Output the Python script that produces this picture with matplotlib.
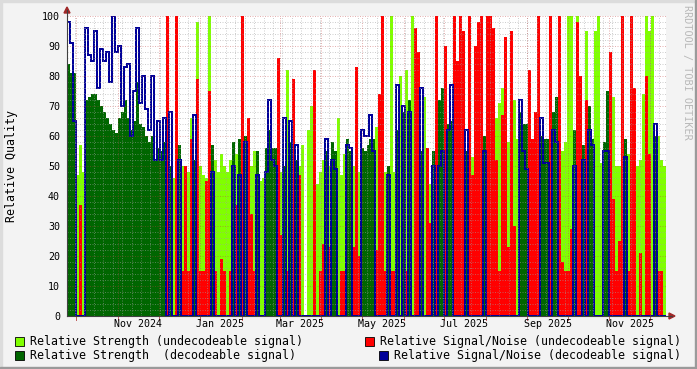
import datetime as dt
import numpy as np
import matplotlib
matplotlib.use('Agg')
import matplotlib.pyplot as plt
import matplotlib.dates as mdates
from matplotlib.patches import Rectangle, Polygon
from matplotlib.lines import Line2D
from matplotlib.transforms import blended_transform_factory

# time span of the graph (bins are equal slices of it)
start = dt.datetime(2024, 9, 24)
end = dt.datetime(2025, 12, 13)

# D = decodeable signal, U = undecodeable signal (one letter per bin)
kind = ("DDDUUUDDDD DDDDDDDDDD DDDDDDDDDD DDDUDUUDUU UUDUUUUUDU "
        "UUUUUDUDUD UUUDUUDDDD UUDUDUDUUU UUUUUUDUDD UUUDDUUUDD "
        "DDDUUUUDUU DUDUDUUUDU UUDUDDUDDU UUUDUUUUUD UUUUUUUUUU "
        "UDDDUUUUDD DUDDUUUUUD UUDUDDUUUD DUUUUUDUUU UUUUUUDUUU").replace(' ', '')

strength = [84, 81, 81, 47, 57, 48, 72, 73, 74, 74,
            72, 70, 68, 66, 64, 62, 61, 66, 68, 72,
            66, 62, 65, 78, 64, 63, 60, 58, 60, 52,
            56, 55, 58, 60, 50, 46, 44, 57, 50, 48,
            48, 66, 52, 98, 50, 47, 46, 100, 57, 52,
            48, 54, 50, 48, 52, 58, 54, 59, 56, 60,
            45, 50, 55, 55, 45, 46, 56, 62, 56, 56,
            48, 48, 50, 82, 58, 52, 52, 50, 57, 0,
            62, 70, 60, 44, 48, 52, 55, 50, 58, 55,
            66, 47, 54, 59, 55, 50, 52, 48, 56, 55,
            57, 59, 59, 63, 55, 50, 48, 50, 100, 48,
            62, 80, 68, 82, 72, 100, 55, 52, 55, 73,
            48, 44, 55, 55, 72, 76, 64, 64, 65, 80,
            50, 50, 45, 55, 50, 53, 55, 58, 58, 60,
            52, 60, 65, 66, 71, 76, 62, 58, 60, 72,
            59, 68, 64, 64, 80, 58, 45, 55, 60, 59,
            59, 58, 68, 73, 60, 55, 58, 100, 100, 62,
            100, 60, 57, 95, 70, 59, 95, 100, 51, 58,
            75, 50, 73, 50, 50, 50, 59, 54, 55, 52,
            50, 52, 74, 100, 95, 100, 60, 60, 52, 50]

snr = [98, 91, 65, 0, 37, 0, 96, 87, 85, 95,
       76, 89, 85, 88, 78, 100, 88, 90, 70, 83,
       84, 60, 75, 96, 71, 80, 69, 62, 80, 52,
       65, 52, 66, 100, 68, 0, 100, 52, 15, 50,
       15, 59, 67, 79, 15, 15, 45, 75, 48, 15,
       0, 19, 15, 0, 15, 50, 37, 47, 100, 58,
       66, 34, 15, 47, 0, 0, 48, 72, 52, 50,
       86, 27, 66, 15, 65, 79, 57, 47, 0, 0,
       0, 0, 82, 0, 15, 24, 59, 23, 52, 49,
       0, 15, 15, 57, 56, 23, 83, 20, 62, 60,
       60, 67, 55, 22, 74, 100, 15, 47, 15, 15,
       77, 0, 70, 15, 68, 0, 96, 88, 76, 0,
       56, 31, 50, 100, 50, 55, 90, 62, 77, 100,
       85, 100, 95, 62, 100, 47, 90, 98, 100, 55,
       100, 100, 96, 52, 15, 67, 93, 23, 95, 30,
       0, 72, 55, 49, 82, 59, 68, 100, 66, 51,
       51, 100, 62, 58, 100, 18, 15, 15, 29, 50,
       98, 80, 52, 72, 62, 57, 0, 0, 0, 55,
       55, 88, 39, 15, 25, 100, 53, 15, 100, 76,
       0, 21, 0, 80, 54, 0, 64, 15, 15, 0]

label_months = [dt.datetime(2024, 11, 16), dt.datetime(2025, 1, 16),
                dt.datetime(2025, 3, 16), dt.datetime(2025, 5, 16),
                dt.datetime(2025, 7, 16), dt.datetime(2025, 9, 16),
                dt.datetime(2025, 11, 16)]

legend_items = [('Relative Strength (undecodeable signal)', '#80FF00'),
                ('Relative Strength  (decodeable signal)', '#006600'),
                ('Relative Signal/Noise (undecodeable signal)', '#FF0000'),
                ('Relative Signal/Noise (decodeable signal)', '#000099')]

# split into the four series
strength = np.array(strength, dtype=float)
snr = np.array(snr, dtype=float)
dec = np.array([k == 'D' for k in kind])
light = np.where(dec, 0, strength)
dark = np.where(dec, strength, 0)
red = np.where(dec, 0, snr)
blue = np.where(dec, snr, 0)

t0 = mdates.date2num(start)
t1 = mdates.date2num(end)
edges = np.linspace(t0, t1, len(strength) + 1)

W, H = 697, 369
mono = 'DejaVu Sans Mono'

def fx(x):
    return x / W

def fy(y):
    return 1 - y / H

fig = plt.figure(figsize=(W / 100, H / 100), dpi=100, facecolor='#F3F3F3')
ax = fig.add_axes([fx(67), fy(316), (666 - 67) / W, 300 / H])
ax.set_facecolor('white')

ax.stairs(light, edges, fill=True, color='#80FF00', lw=0, zorder=1)
ax.stairs(dark, edges, fill=True, color='#006600', lw=0, zorder=1.1)
ax.stairs(red, edges, fill=True, color='#FF0000', lw=0, zorder=1.2)
ax.stairs(blue, edges, baseline=None, color='#000099', lw=1.44, zorder=1.3)

ax.set_xlim(t0, t1)
ax.set_ylim(0, 100)

# grid (drawn on top like rrdtool)
dots = (0, (1, 1.5))
for v in range(0, 101, 2):
    if v % 10:
        ax.axhline(v, color='#A0A0A0', alpha=0.5, lw=0.72, ls=dots, zorder=3)
for v in range(10, 101, 10):
    ax.axhline(v, color='#C04040', alpha=0.4, lw=0.72, ls=dots, zorder=3)
for d in mdates.drange(dt.datetime(2024, 9, 30), end, dt.timedelta(days=7)):
    ax.axvline(d, color='#A0A0A0', alpha=0.5, lw=0.72, ls=dots, zorder=3)
month_starts = [dt.datetime(2024 + (m - 1) // 12, (m - 1) % 12 + 1, 1) for m in range(10, 25)]
for d in month_starts:
    ax.axvline(mdates.date2num(d), color='#C04040', alpha=0.4, lw=0.72, ls=dots, zorder=3)
    ax.plot([mdates.date2num(d)] * 2, [0, -1.2], color='#C06060', lw=0.72, clip_on=False)

for s in ax.spines.values():
    s.set_visible(False)
ax.set_xticks([])
ax.set_yticks(range(0, 101, 10))
ax.set_yticklabels([str(v) for v in range(0, 101, 10)], fontfamily=mono, fontsize=7.2)
ax.tick_params(axis='y', length=0, pad=5)

tr = blended_transform_factory(ax.transData, ax.transAxes)
for d in label_months:
    ax.text(mdates.date2num(d), -0.027, d.strftime('%b %Y'), transform=tr,
            ha='center', va='center', fontfamily=mono, fontsize=7.2)

# axis lines and arrows
fig.add_artist(Line2D([fx(67), fx(672)], [fy(316), fy(316)], color='#404040', lw=0.8))
fig.add_artist(Line2D([fx(67), fx(67)], [fy(316), fy(10)], color='#404040', lw=0.8))
fig.add_artist(Polygon([[fx(64), fy(13)], [fx(70), fy(13)], [fx(67), fy(7)]],
                       closed=True, color='#A02828', transform=fig.transFigure))
fig.add_artist(Polygon([[fx(669), fy(313)], [fx(669), fy(319)], [fx(675), fy(316)]],
                       closed=True, color='#A02828', transform=fig.transFigure))

fig.text(fx(12), fy(166), 'Relative Quality', rotation=90, ha='center', va='center',
         fontfamily=mono, fontsize=8.4)
fig.text(fx(687), fy(5), 'RRDTOOL / TOBI OETIKER', rotation=270, ha='center', va='top',
         fontfamily=mono, fontsize=7.3, color='#B8B8B8')

# legend
spots = [(15, 341), (15, 355), (365, 341), (379, 355)]
for (lab, col), (x, y) in zip(legend_items, spots):
    fig.add_artist(Rectangle((fx(x), fy(y + 5)), 9 / W, 9 / H, facecolor=col,
                             edgecolor='black', lw=0.6, transform=fig.transFigure))
    fig.text(fx(x + 15), fy(y), lab, ha='left', va='center', fontfamily=mono, fontsize=8.4)

# 3d frame
fig.add_artist(Rectangle((0, 1 - 2 / H), 1, 2 / H, color='#DCDCDC', transform=fig.transFigure))
fig.add_artist(Rectangle((0, 0), 2 / W, 1, color='#DCDCDC', transform=fig.transFigure))
fig.add_artist(Rectangle((0, 0), 1, 2 / H, color='#9A9A9A', transform=fig.transFigure))
fig.add_artist(Rectangle((1 - 2 / W, 0), 2 / W, 1, color='#9A9A9A', transform=fig.transFigure))

fig.savefig('out.png', dpi=100, facecolor=fig.get_facecolor())
